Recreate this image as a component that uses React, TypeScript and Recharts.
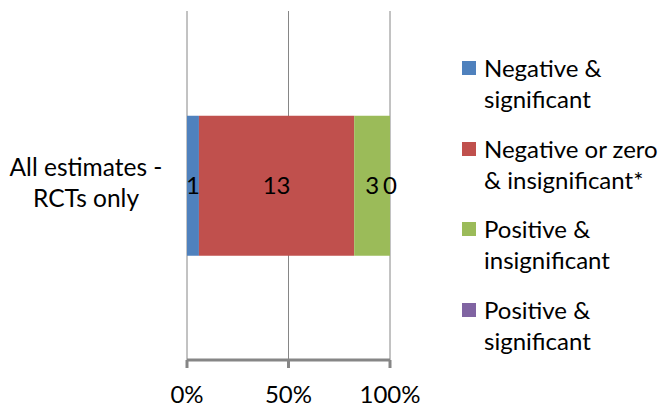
import { BarChart, Bar, XAxis, YAxis, CartesianGrid, Legend, LabelList } from 'recharts';

document.body.style.margin = '0';

const categories = ['All estimates - RCTs only'];
const negativeSignificant = [1];
const negativeInsignificant = [13];
const positiveInsignificant = [3];
const positiveSignificant = [0];
const percentTicks = [0, 0.5, 1];

const series = [
    { key: 'negSig', name: 'Negative & significant', color: '#4F81BD' },
    { key: 'negInsig', name: 'Negative or zero & insignificant*', color: '#C0504D' },
    { key: 'posInsig', name: 'Positive & insignificant', color: '#9BBB59' },
    { key: 'posSig', name: 'Positive & significant', color: '#8064A2' },
];

const data = categories.map((name, i) => ({
    name,
    negSig: negativeSignificant[i],
    negInsig: negativeInsignificant[i],
    posInsig: positiveInsignificant[i],
    posSig: positiveSignificant[i],
}));

const FONT = 'Lato, sans-serif';
const AXIS = '#868686';

function CategoryTick({ x, y, payload }: any) {
    // break the label after the dash, like Excel does
    const lines = String(payload.value).replace(' - ', ' -\n').split('\n');
    return (
        <g>
            {lines.map((line, i) => (
                <text key={i} x={x - 93} y={y - 9.5 + i * 31} textAnchor="middle" fontSize={24.5} fontFamily={FONT} fill="#000">
                    {line}
                </text>
            ))}
        </g>
    );
}

// the last series is 0 wide, so its label hangs on the right edge of the green segment
function EdgeLabel({ x, y, width, height, value }: any) {
    return (
        <text x={x + width} y={y + height / 2} dy="0.355em" textAnchor="middle" fontSize={24} fontFamily={FONT} fill="#000">
            {value}
        </text>
    );
}

function LegendBox({ payload }: any) {
    return (
        <div style={{ fontFamily: FONT, fontSize: 24, lineHeight: '31px', color: '#000' }}>
            {(payload || []).map((entry: any, i: number) => (
                <div key={i} style={{ display: 'flex', marginBottom: 18.5 }}>
                    <div style={{ width: 14, height: 14, background: entry.color, marginTop: 9, marginRight: 8, flexShrink: 0 }} />
                    <div style={{ width: 180 }}>{entry.value}</div>
                </div>
            ))}
        </div>
    );
}

export default function App() {
    return (
        <BarChart
            width={664}
            height={410}
            data={data}
            layout="vertical"
            stackOffset="expand"
            barCategoryGap="30%"
            margin={{ top: 11, right: 274, bottom: 0, left: 0 }}
        >
            <CartesianGrid horizontal={false} stroke={AXIS} yAxisId="frame" />
            <XAxis
                type="number"
                domain={[0, 1]}
                ticks={percentTicks}
                tickFormatter={(v) => `${Math.round(v * 100)}%`}
                height={50}
                tickSize={8}
                tickMargin={18}
                stroke={AXIS}
                strokeWidth={3}
                axisLine={{ stroke: AXIS, strokeWidth: 3 }}
                tickLine={{ stroke: AXIS, strokeWidth: 3 }}
                tick={{ fill: '#000', fontSize: 24, fontFamily: FONT }}
            />
            <YAxis
                yAxisId="frame"
                type="number"
                domain={[0, 1]}
                ticks={[0, 1]}
                width={0}
                tickSize={8}
                stroke={AXIS}
                tickFormatter={() => ''}
            />
            <YAxis
                yAxisId="cat"
                type="category"
                dataKey="name"
                width={187}
                axisLine={false}
                tickLine={false}
                tick={<CategoryTick />}
            />
            {series.map((s) => (
                <Bar key={s.key} dataKey={s.key} name={s.name} stackId="a" yAxisId="cat" fill={s.color} isAnimationActive={false}>
                    <LabelList dataKey={s.key} position="center" fill="#000" fontSize={24} fontFamily={FONT} />
                    {s.key === 'posInsig' && <LabelList dataKey="posSig" content={<EdgeLabel />} />}
                </Bar>
            ))}
            <Legend
                layout="vertical"
                align="center"
                verticalAlign="middle"
                content={<LegendBox />}
                wrapperStyle={{ left: 462, top: 52, width: 202 }}
            />
        </BarChart>
    );
}
